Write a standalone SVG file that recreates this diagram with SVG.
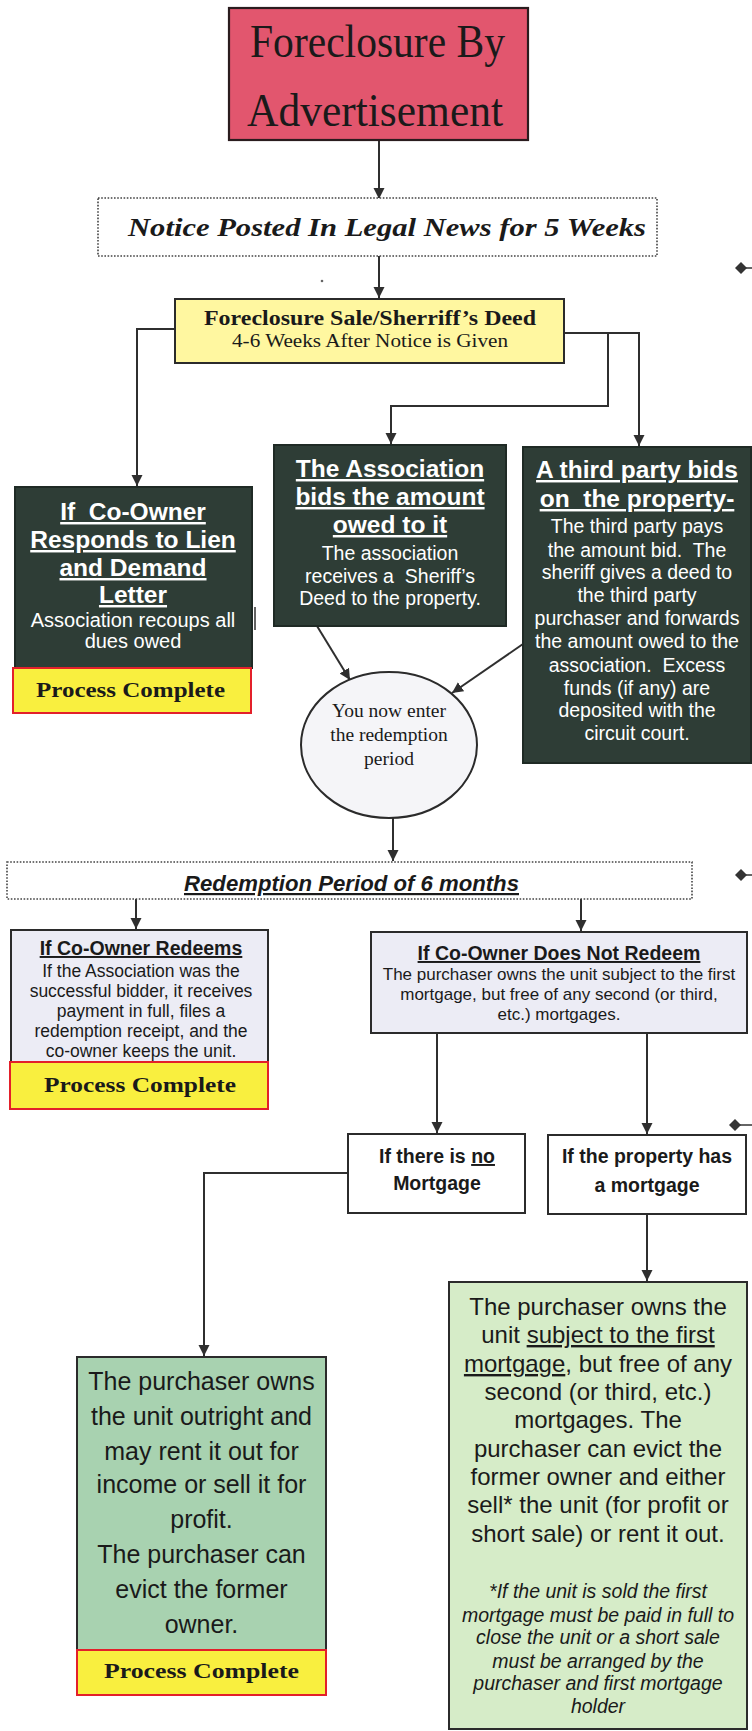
<svg xmlns="http://www.w3.org/2000/svg" width="752" height="1731" viewBox="0 0 752 1731">
<style>
  .bg{fill:#ffffff}
  .edge{fill:none;stroke:#2f2f2f;stroke-width:2}
  .box{stroke:#2b2b2b;stroke-width:2}
  .dark{fill:#2E3D36;stroke:#1f2a25;stroke-width:2}
  .done{fill:#F9EF3F;stroke:#E3202A;stroke-width:2}
  .lav{fill:#ECECF5;stroke:#2b2b2b;stroke-width:2}
  .white{fill:#ffffff;stroke:#2b2b2b;stroke-width:2}
  .dotted{fill:#ffffff;stroke:#444;stroke-width:1.6;stroke-dasharray:1.6 1.6}
  .serif{font-family:"Liberation Serif","Times New Roman",serif;fill:#1a1a1a}
  .sans{font-family:"Liberation Sans",Arial,sans-serif;fill:#1a1a1a}
  .wh{fill:#ffffff}
  .hd{font-weight:bold;font-size:24.5px;text-decoration:underline}
  .bd{font-size:19.5px}
  .mid{text-anchor:middle}
  .ul{text-decoration:underline}
</style>
<defs>
  <marker id="ah" markerUnits="userSpaceOnUse" markerWidth="12" markerHeight="12" refX="11" refY="6" orient="auto">
    <path d="M0,0.5 L11,6 L0,11.5 z" fill="#2f2f2f"/>
  </marker>
</defs>
<rect class="bg" x="0" y="0" width="752" height="1731"/>

<g id="connectors">
  <path class="edge" d="M379,140 V199" marker-end="url(#ah)"/>
  <path class="edge" d="M379,256 V298" marker-end="url(#ah)"/>
  <path class="edge" d="M175,329 H137 V486" marker-end="url(#ah)"/>
  <path class="edge" d="M564,333 H639 V446" marker-end="url(#ah)"/>
  <path class="edge" d="M608,333 V406 H391 V444" marker-end="url(#ah)"/>
  <path class="edge" d="M317,626 L350,680" marker-end="url(#ah)"/>
  <path class="edge" d="M523,644 L452,693" marker-end="url(#ah)"/>
  <path class="edge" d="M393,818 V861" marker-end="url(#ah)"/>
  <path class="edge" d="M136,899 V929" marker-end="url(#ah)"/>
  <path class="edge" d="M581,899 V931" marker-end="url(#ah)"/>
  <path class="edge" d="M437,1033 V1133" marker-end="url(#ah)"/>
  <path class="edge" d="M647,1033 V1134" marker-end="url(#ah)"/>
  <path class="edge" d="M348,1173 H204 V1356" marker-end="url(#ah)"/>
  <path class="edge" d="M647,1214 V1281" marker-end="url(#ah)"/>
  <line x1="255" y1="607" x2="255" y2="630" stroke="#2f2f2f" stroke-width="1.5"/>
</g>

<g id="margin-marks" fill="#333" stroke="#333">
  <polygon points="735,268 741,262 747,268 741,274" stroke="none"/>
  <line x1="746" y1="268" x2="752" y2="268" stroke-width="1.5"/>
  <polygon points="735,875 741,869 747,875 741,881" stroke="none"/>
  <line x1="746" y1="875" x2="752" y2="875" stroke-width="1.5"/>
  <polygon points="729,1125 735,1119 741,1125 735,1131" stroke="none"/>
  <line x1="740" y1="1125" x2="752" y2="1125" stroke-width="1.5"/>
  <circle cx="322" cy="281" r="1.3" stroke="none" fill="#666"/>
</g>

<g id="title">
  <rect x="229" y="8" width="299" height="132" fill="#E2566E" stroke="#2a1c1e" stroke-width="2.2"/>
  <text class="serif" x="250" y="57" font-size="46" textLength="255" lengthAdjust="spacingAndGlyphs">Foreclosure By</text>
  <text class="serif" x="247" y="126" font-size="46" textLength="256" lengthAdjust="spacingAndGlyphs">Advertisement</text>
</g>

<g id="notice">
  <rect class="dotted" x="98" y="198" width="559" height="58"/>
  <text class="serif" x="128" y="236" font-size="25" font-weight="bold" font-style="italic" textLength="518" lengthAdjust="spacingAndGlyphs">Notice Posted In Legal News for 5 Weeks</text>
</g>

<g id="sale">
  <rect class="box" x="175" y="299" width="389" height="64" fill="#FFF7A0"/>
  <text class="serif" x="204" y="325" font-size="20" font-weight="bold" textLength="332" lengthAdjust="spacingAndGlyphs">Foreclosure Sale/Sherriff’s Deed</text>
  <text class="serif" x="232" y="347" font-size="19.5" textLength="276" lengthAdjust="spacingAndGlyphs">4-6 Weeks After Notice is Given</text>
</g>

<g id="coowner-responds">
  <rect class="dark" x="15" y="487" width="237" height="181"/>
  <rect class="done" x="13" y="668" width="238" height="45"/>
  <text class="sans wh hd mid" x="133" y="520">If&#160; Co-Owner</text>
  <text class="sans wh hd mid" x="133" y="548">Responds to Lien</text>
  <text class="sans wh hd mid" x="133" y="576">and Demand</text>
  <text class="sans wh hd mid" x="133" y="603">Letter</text>
  <text class="sans wh mid" x="133" y="627" font-size="20">Association recoups all</text>
  <text class="sans wh mid" x="133" y="648" font-size="20">dues owed</text>
  <text class="serif" x="36" y="697" font-size="22" font-weight="bold" textLength="189" lengthAdjust="spacingAndGlyphs">Process Complete</text>
</g>

<g id="association-bids">
  <rect class="dark" x="274" y="445" width="232" height="181"/>
  <text class="sans wh hd mid" x="390" y="477">The Association</text>
  <text class="sans wh hd mid" x="390" y="505">bids the amount</text>
  <text class="sans wh hd mid" x="390" y="533">owed to it</text>
  <text class="sans wh bd mid" x="390" y="560">The association</text>
  <text class="sans wh bd mid" x="390" y="583">receives a&#160; Sheriff’s</text>
  <text class="sans wh bd mid" x="390" y="605">Deed to the property.</text>
</g>

<g id="third-party-bids">
  <rect class="dark" x="523" y="447" width="228" height="316"/>
  <text class="sans wh hd mid" x="637" y="478">A third party bids</text>
  <text class="sans wh hd mid" x="637" y="507">on&#160; the property-</text>
  <text class="sans wh bd mid" x="637" y="533">The third party pays</text>
  <text class="sans wh bd mid" x="637" y="557">the amount bid.&#160; The</text>
  <text class="sans wh bd mid" x="637" y="579">sheriff gives a deed to</text>
  <text class="sans wh bd mid" x="637" y="602">the third party</text>
  <text class="sans wh bd mid" x="637" y="625">purchaser and forwards</text>
  <text class="sans wh bd mid" x="637" y="648">the amount owed to the</text>
  <text class="sans wh bd mid" x="637" y="672">association.&#160; Excess</text>
  <text class="sans wh bd mid" x="637" y="695">funds (if any) are</text>
  <text class="sans wh bd mid" x="637" y="717">deposited with the</text>
  <text class="sans wh bd mid" x="637" y="740">circuit court.</text>
</g>

<g id="redemption-entry">
  <ellipse cx="389" cy="745" rx="88" ry="73" fill="#F5F5F8" stroke="#2b2b2b" stroke-width="2"/>
  <text class="serif mid" x="389" y="717" font-size="19.5">You now enter</text>
  <text class="serif mid" x="389" y="741" font-size="19.5">the redemption</text>
  <text class="serif mid" x="389" y="765" font-size="19.5">period</text>
</g>

<g id="redemption-period">
  <rect class="dotted" x="7" y="862" width="685" height="37"/>
  <text class="sans ul" x="184" y="891" font-size="22" font-weight="bold" font-style="italic" textLength="335" lengthAdjust="spacingAndGlyphs">Redemption Period of 6 months</text>
</g>

<g id="coowner-redeems">
  <rect class="lav" x="11" y="930" width="257" height="132"/>
  <rect class="done" x="10" y="1062" width="258" height="47"/>
  <text class="sans mid" x="141" y="955" font-size="19.5" font-weight="bold" text-decoration="underline">If Co-Owner Redeems</text>
  <text class="sans mid" x="141" y="977" font-size="17.5">If the Association was the</text>
  <text class="sans mid" x="141" y="997" font-size="17.5">successful bidder, it receives</text>
  <text class="sans mid" x="141" y="1017" font-size="17.5">payment in full, files a</text>
  <text class="sans mid" x="141" y="1037" font-size="17.5">redemption receipt, and the</text>
  <text class="sans mid" x="141" y="1057" font-size="17.5">co-owner keeps the unit.</text>
  <text class="serif" x="44" y="1092" font-size="22" font-weight="bold" textLength="192" lengthAdjust="spacingAndGlyphs">Process Complete</text>
</g>

<g id="coowner-not-redeem">
  <rect class="lav" x="371" y="932" width="376" height="101"/>
  <text class="sans mid" x="559" y="960" font-size="19.5" font-weight="bold" text-decoration="underline">If Co-Owner Does Not Redeem</text>
  <text class="sans mid" x="559" y="980" font-size="17">The purchaser owns the unit subject to the first</text>
  <text class="sans mid" x="559" y="1000" font-size="17">mortgage, but free of any second (or third,</text>
  <text class="sans mid" x="559" y="1020" font-size="17">etc.) mortgages.</text>
</g>

<g id="no-mortgage">
  <rect class="white" x="348" y="1134" width="177" height="79"/>
  <text class="sans mid" x="437" y="1163" font-size="19.5" font-weight="bold">If there is <tspan style="text-decoration:underline">no</tspan></text>
  <text class="sans mid" x="437" y="1190" font-size="19.5" font-weight="bold">Mortgage</text>
</g>

<g id="has-mortgage">
  <rect class="white" x="548" y="1135" width="198" height="79"/>
  <text class="sans mid" x="647" y="1163" font-size="19.5" font-weight="bold">If the property has</text>
  <text class="sans mid" x="647" y="1192" font-size="19.5" font-weight="bold">a mortgage</text>
</g>

<g id="outright">
  <rect class="box" x="77" y="1357" width="249" height="293" fill="#A8D2B0"/>
  <rect class="done" x="77" y="1650" width="249" height="45"/>
  <text class="sans mid" x="201.5" y="1390" font-size="25">The purchaser owns</text>
  <text class="sans mid" x="201.5" y="1425" font-size="25">the unit outright and</text>
  <text class="sans mid" x="201.5" y="1460" font-size="25">may rent it out for</text>
  <text class="sans mid" x="201.5" y="1493" font-size="25">income or sell it for</text>
  <text class="sans mid" x="201.5" y="1528" font-size="25">profit.</text>
  <text class="sans mid" x="201.5" y="1563" font-size="25">The purchaser can</text>
  <text class="sans mid" x="201.5" y="1598" font-size="25">evict the former</text>
  <text class="sans mid" x="201.5" y="1633" font-size="25">owner.</text>
  <text class="serif" x="104" y="1678" font-size="22" font-weight="bold" textLength="195" lengthAdjust="spacingAndGlyphs">Process Complete</text>
</g>

<g id="subject-to-mortgage">
  <rect class="box" x="449" y="1282" width="298" height="447" fill="#D6ECC8"/>
  <text class="sans mid" x="598" y="1315" font-size="24">The purchaser owns the</text>
  <text class="sans mid" x="598" y="1343" font-size="24">unit <tspan style="text-decoration:underline">subject to the first</tspan></text>
  <text class="sans mid" x="598" y="1372" font-size="24"><tspan style="text-decoration:underline">mortgage</tspan>, but free of any</text>
  <text class="sans mid" x="598" y="1400" font-size="24">second (or third, etc.)</text>
  <text class="sans mid" x="598" y="1428" font-size="24">mortgages. The</text>
  <text class="sans mid" x="598" y="1457" font-size="24">purchaser can evict the</text>
  <text class="sans mid" x="598" y="1485" font-size="24">former owner and either</text>
  <text class="sans mid" x="598" y="1513" font-size="24">sell* the unit (for profit or</text>
  <text class="sans mid" x="598" y="1542" font-size="24">short sale) or rent it out.</text>
  <text class="sans mid" x="598" y="1598" font-size="19.5" font-style="italic">*If the unit is sold the first</text>
  <text class="sans mid" x="598" y="1622" font-size="19.5" font-style="italic">mortgage must be paid in full to</text>
  <text class="sans mid" x="598" y="1644" font-size="19.5" font-style="italic">close the unit or a short sale</text>
  <text class="sans mid" x="598" y="1668" font-size="19.5" font-style="italic">must be arranged by the</text>
  <text class="sans mid" x="598" y="1690" font-size="19.5" font-style="italic">purchaser and first mortgage</text>
  <text class="sans mid" x="598" y="1713" font-size="19.5" font-style="italic">holder</text>
</g>
</svg>
